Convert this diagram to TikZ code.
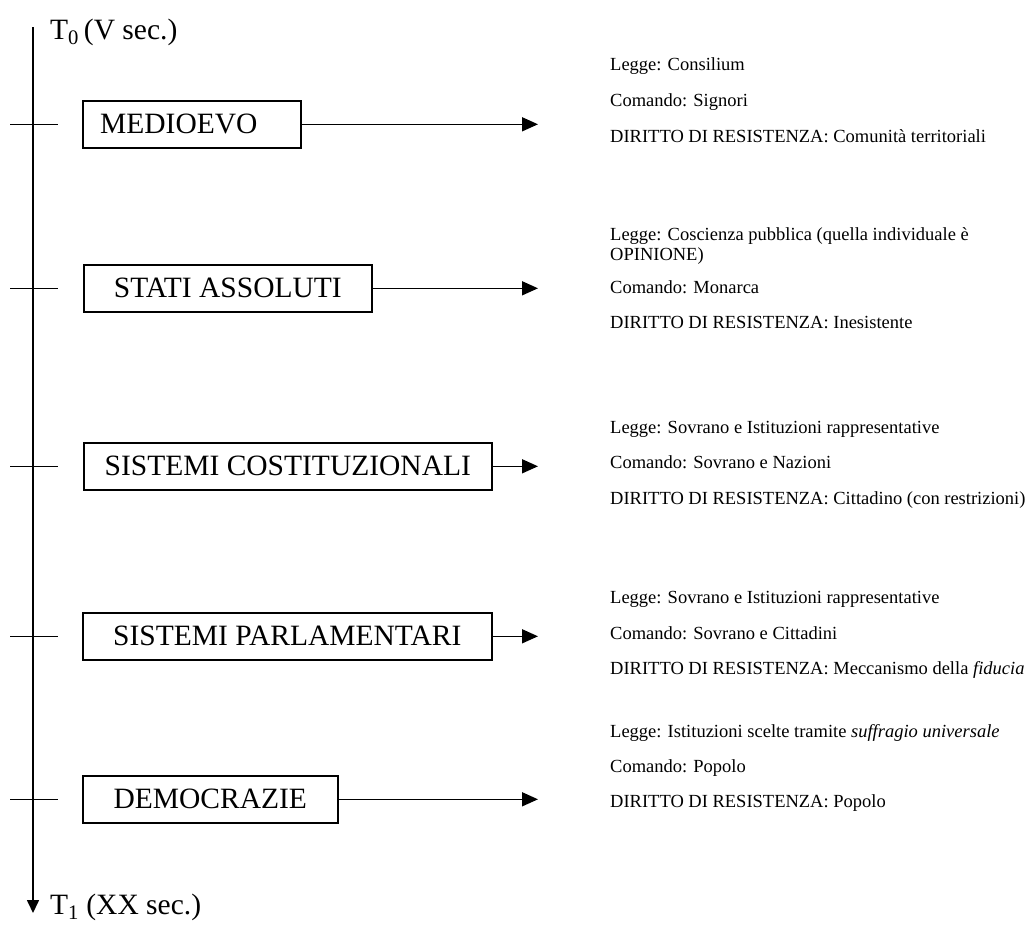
\documentclass[tikz,border=0pt]{standalone}
\usepackage{fontspec}
\setmainfont{Liberation Serif}
\usetikzlibrary{arrows.meta}
\tikzset{
  era/.style={draw, line width=1.6pt, inner sep=0pt, minimum height=47pt, font=\fontsize{29.5}{34}\selectfont, anchor=north west},
  info/.style={anchor=base west, inner sep=0pt, font=\fontsize{18.5}{21}\selectfont},
  conn/.style={line width=1.6pt, -{Triangle[length=16pt,width=14pt]}},
  tick/.style={line width=1.5pt},
  axislabel/.style={anchor=base west, inner sep=0pt, font=\fontsize{29.5}{34}\selectfont}
}
\begin{document}
\begin{tikzpicture}[x=1pt,y=-1pt]
\useasboundingbox (0,0) rectangle (1030,926);
% axis
\coordinate (top) at (33,27);
\coordinate (bot) at (33,913);
\draw[line width=1.6pt, -{Triangle[length=13pt,width=12pt]}] (top) -- (bot);
\node[axislabel] (t0) at (50,39) {T\textsubscript{0}\,(V sec.)};
\node[axislabel] (t1) at (50,914) {T\textsubscript{1} (XX sec.)};
% boxes
\node[era, minimum width=218pt] (b1) at (82,100) {MEDIOEVO\hspace*{26pt}};
\node[era, minimum width=288pt] (b2) at (83,264) {STATI ASSOLUTI};
\node[era, minimum width=408pt] (b3) at (83,442) {SISTEMI COSTITUZIONALI};
\node[era, minimum width=409pt] (b4) at (82,612) {SISTEMI PARLAMENTARI};
\node[era, minimum width=255pt] (b5) at (82,775) {DEMOCRAZIE};
% ticks
\foreach \b in {b1,b2,b3,b4,b5}{
  \coordinate (\b-l) at (10,0 |- \b.west);
  \coordinate (\b-r) at (58,0 |- \b.west);
  \draw[tick] (\b-l) -- (\b-r);
}
% arrows
\foreach \b in {b1,b2,b3,b4,b5}{
  \coordinate (\b-t) at (538,0 |- \b.east);
  \draw[conn] (\b.east) -- (\b-t);
}
% texts
\node[info] (l1) at (610,70) {Legge: Consilium};
\node[info] (c1) at (610,106) {Comando: Signori};
\node[info] (d1) at (610,142) {DIRITTO DI RESISTENZA: Comunità territoriali};

\node[info] (l2) at (610,240) {Legge: Coscienza pubblica (quella individuale è};
\node[info] (l2b) at (610,260) {OPINIONE)};
\node[info] (c2) at (610,293) {Comando: Monarca};
\node[info] (d2) at (610,328) {DIRITTO DI RESISTENZA: Inesistente};

\node[info] (l3) at (610,433) {Legge: Sovrano e Istituzioni rappresentative};
\node[info] (c3) at (610,468) {Comando: Sovrano e Nazioni};
\node[info] (d3) at (610,504) {DIRITTO DI RESISTENZA: Cittadino (con restrizioni)};

\node[info] (l4) at (610,603) {Legge: Sovrano e Istituzioni rappresentative};
\node[info] (c4) at (610,639) {Comando: Sovrano e Cittadini};
\node[info] (d4) at (610,674) {DIRITTO DI RESISTENZA: Meccanismo della \textit{fiducia}};

\node[info] (l5) at (610,737) {Legge: Istituzioni scelte tramite \textit{suffragio universale}};
\node[info] (c5) at (610,772) {Comando: Popolo};
\node[info] (d5) at (610,807) {DIRITTO DI RESISTENZA: Popolo};
\end{tikzpicture}
\end{document}
